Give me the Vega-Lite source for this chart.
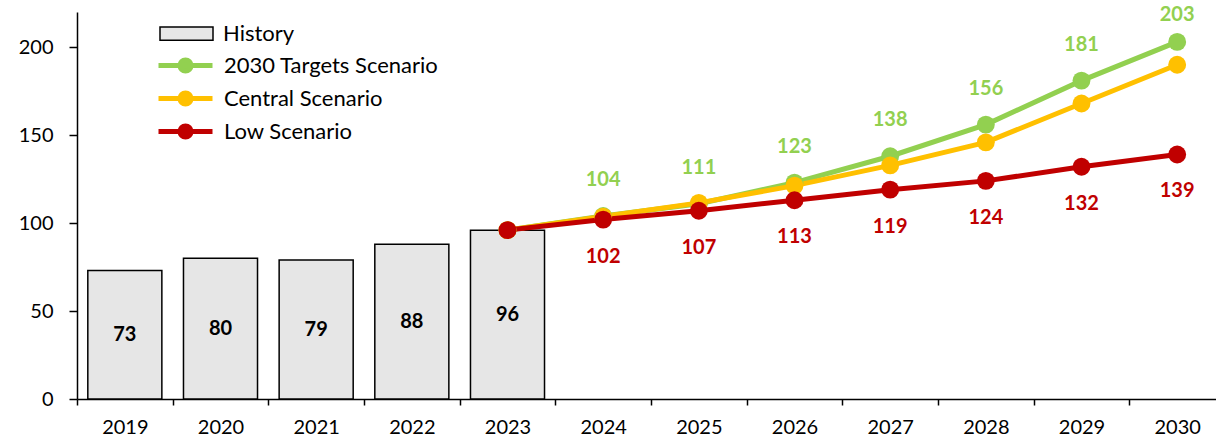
{
  "$schema": "https://vega.github.io/schema/vega-lite/v6.json",
  "width": 1139,
  "height": 387,
  "autosize": {"type": "none"},
  "padding": {"left": 77, "top": 12, "right": 0, "bottom": 38},
  "background": "white",
  "config": {
    "view": {"stroke": null},
    "font": "Lato",
    "axis": {"labelFont": "Lato", "labelColor": "black", "labelFontSize": 20, "domainColor": "black", "tickColor": "black", "domainWidth": 1.5, "tickWidth": 1.5, "grid": false, "title": null}
  },
  "data": {"values": [
    {"year": "2019", "series": "History", "value": 73},
    {"year": "2020", "series": "History", "value": 80},
    {"year": "2021", "series": "History", "value": 79},
    {"year": "2022", "series": "History", "value": 88},
    {"year": "2023", "series": "History", "value": 96},
    {"year": "2024", "series": "History", "value": null},
    {"year": "2025", "series": "History", "value": null},
    {"year": "2026", "series": "History", "value": null},
    {"year": "2027", "series": "History", "value": null},
    {"year": "2028", "series": "History", "value": null},
    {"year": "2029", "series": "History", "value": null},
    {"year": "2030", "series": "History", "value": null},
    {"year": "2023", "series": "2030 Targets Scenario", "value": 96},
    {"year": "2024", "series": "2030 Targets Scenario", "value": 104},
    {"year": "2025", "series": "2030 Targets Scenario", "value": 111},
    {"year": "2026", "series": "2030 Targets Scenario", "value": 123},
    {"year": "2027", "series": "2030 Targets Scenario", "value": 138},
    {"year": "2028", "series": "2030 Targets Scenario", "value": 156},
    {"year": "2029", "series": "2030 Targets Scenario", "value": 181},
    {"year": "2030", "series": "2030 Targets Scenario", "value": 203},
    {"year": "2023", "series": "Central Scenario", "value": 96},
    {"year": "2024", "series": "Central Scenario", "value": 103.7},
    {"year": "2025", "series": "Central Scenario", "value": 111.5},
    {"year": "2026", "series": "Central Scenario", "value": 121.3},
    {"year": "2027", "series": "Central Scenario", "value": 132.8},
    {"year": "2028", "series": "Central Scenario", "value": 145.9},
    {"year": "2029", "series": "Central Scenario", "value": 168},
    {"year": "2030", "series": "Central Scenario", "value": 190},
    {"year": "2023", "series": "Low Scenario", "value": 96},
    {"year": "2024", "series": "Low Scenario", "value": 102},
    {"year": "2025", "series": "Low Scenario", "value": 107},
    {"year": "2026", "series": "Low Scenario", "value": 113},
    {"year": "2027", "series": "Low Scenario", "value": 119},
    {"year": "2028", "series": "Low Scenario", "value": 124},
    {"year": "2029", "series": "Low Scenario", "value": 132},
    {"year": "2030", "series": "Low Scenario", "value": 139}
  ]},
  "encoding": {
    "x": {
      "field": "year", "type": "ordinal", "sort": "ascending",
      "scale": {"paddingInner": 0, "paddingOuter": 0, "range": [0, 1148]},
      "axis": {"labelAngle": 0, "tickBand": "extent", "tickSize": 6, "labelPadding": 12}
    }
  },
  "layer": [
    {
      "layer": [
        {
          "transform": [{"filter": "datum.series == 'History' && datum.value != null"}],
          "mark": {"type": "bar", "stroke": "black", "strokeWidth": 1.5, "width": {"band": 0.774}},
          "encoding": {
            "y": {"field": "value", "type": "quantitative", "scale": {"domain": [0, 220], "nice": false},
              "axis": {"values": [0, 50, 100, 150, 200], "tickSize": 8, "labelPadding": 16}},
            "fill": {"field": "series", "type": "nominal",
              "scale": {"domain": ["History"], "range": ["#e6e6e6"]},
              "legend": {"orient": "none", "legendX": 82, "legendY": -6, "title": null, "padding": 0,
                "symbolType": "M-1,-0.25H1V0.25H-1Z", "symbolSize": 2809, "symbolStrokeColor": "black", "symbolStrokeWidth": 1.5,
                "labelFont": "Lato", "labelFontSize": 22, "labelColor": "black", "labelOffset": 9, "labelLimit": 400}}
          }
        },
        {
          "transform": [{"filter": "datum.series != 'History'"}],
          "mark": {"type": "line", "strokeWidth": 5},
          "encoding": {
            "y": {"field": "value", "type": "quantitative", "scale": {"domain": [0, 220], "nice": false}},
            "stroke": {"field": "series", "type": "nominal", "sort": null,
              "scale": {"domain": ["2030 Targets Scenario", "Central Scenario", "Low Scenario"], "range": ["#92d050", "#ffc000", "#c00000"]},
              "legend": {"orient": "none", "legendX": 96, "legendY": 41, "title": null, "padding": 0,
                "symbolType": "M-2.7,0H2.7M0.55,0A0.55,0.55 0 1 1 -0.55,0A0.55,0.55 0 1 1 0.55,0Z", "symbolSize": 400, "symbolStrokeWidth": 5,
                "rowPadding": 2,
                "labelFont": "Lato", "labelFontSize": 22, "labelColor": "black", "labelOffset": 26, "labelLimit": 400,
                "encode": {"symbols": {"update": {"fill": {"scale": "stroke", "field": "value"}, "stroke": {"scale": "stroke", "field": "value"}}}}}},
            "order": {"field": "series", "sort": "ascending"}
          }
        },
        {
          "transform": [{"filter": "datum.series != 'History'"}],
          "mark": {"type": "point", "filled": true, "opacity": 1, "size": 320},
          "encoding": {
            "y": {"field": "value", "type": "quantitative"},
            "color": {"field": "series", "type": "nominal",
              "scale": {"domain": ["2030 Targets Scenario", "Central Scenario", "Low Scenario"], "range": ["#92d050", "#ffc000", "#c00000"]},
              "legend": null}
          }
        },
        {
          "transform": [{"filter": "datum.series == '2030 Targets Scenario' && datum.year > '2023' && datum.year < '2030'"}],
          "mark": {"type": "text", "fontWeight": "bold", "fontSize": 20, "color": "#92d050", "dy": -36},
          "encoding": {"y": {"field": "value", "type": "quantitative"}, "text": {"field": "value", "type": "quantitative"}}
        },
        {
          "transform": [{"filter": "datum.series == '2030 Targets Scenario' && datum.year == '2030'"}],
          "mark": {"type": "text", "fontWeight": "bold", "fontSize": 20, "color": "#92d050", "dy": -27},
          "encoding": {"y": {"field": "value", "type": "quantitative"}, "text": {"field": "value", "type": "quantitative"}}
        },
        {
          "transform": [{"filter": "datum.series == 'Low Scenario' && datum.year > '2023'"}],
          "mark": {"type": "text", "fontWeight": "bold", "fontSize": 20, "color": "#c00000", "dy": 37},
          "encoding": {"y": {"field": "value", "type": "quantitative"}, "text": {"field": "value", "type": "quantitative"}}
        }
      ]
    },
    {
      "transform": [{"filter": "datum.series == 'History' && datum.value != null"}],
      "mark": {"type": "text", "fontWeight": "bold", "fontSize": 20, "color": "black", "baseline": "middle"},
      "encoding": {
        "y": {"field": "value", "type": "quantitative", "scale": {"domain": [0, 440], "nice": false}, "axis": null},
        "text": {"field": "value", "type": "quantitative"}
      }
    }
  ],
  "resolve": {"scale": {"y": "independent"}}
}
